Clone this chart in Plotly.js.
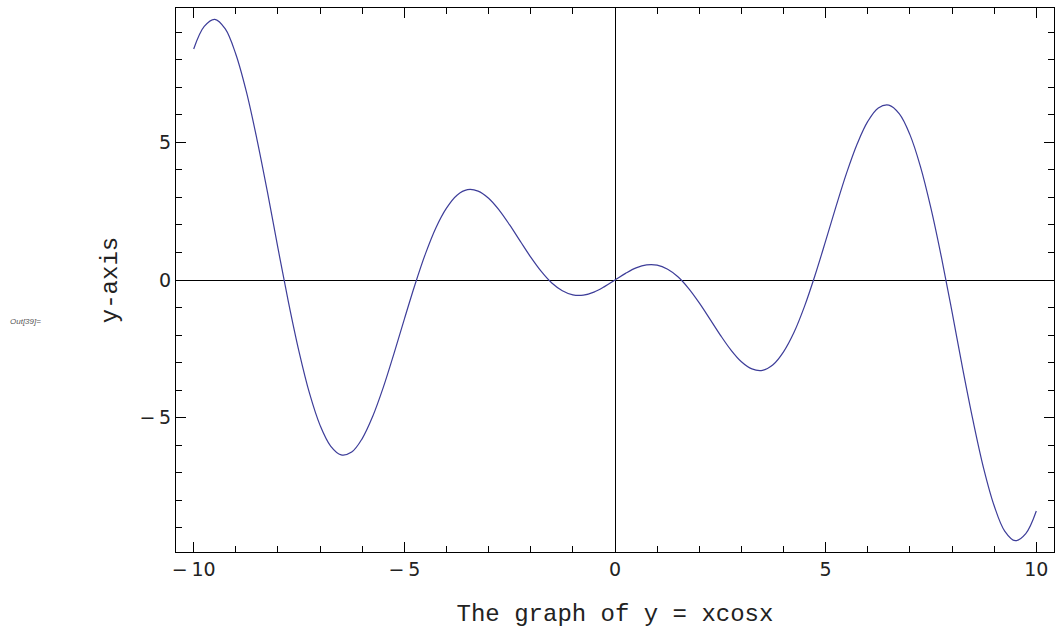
<!DOCTYPE html>
<html>
<head>
<meta charset="utf-8">
<script src="https://cdn.plot.ly/plotly-3.0.1.min.js"></script>
<style>html,body{margin:0;padding:0;background:#fff;}#chart{width:1055px;height:629px;}</style>
</head>
<body>
<div id="chart"></div>
<script>
// Sample points (x step 0.25)
const xValues = [
  -10,-9.75,-9.5,-9.25,-9,-8.75,-8.5,-8.25,-8,-7.75,-7.5,-7.25,-7,-6.75,-6.5,-6.25,-6,-5.75,-5.5,-5.25,
  -5,-4.75,-4.5,-4.25,-4,-3.75,-3.5,-3.25,-3,-2.75,-2.5,-2.25,-2,-1.75,-1.5,-1.25,-1,-0.75,-0.5,-0.25,
  0,0.25,0.5,0.75,1,1.25,1.5,1.75,2,2.25,2.5,2.75,3,3.25,3.5,3.75,4,4.25,4.5,4.75,
  5,5.25,5.5,5.75,6,6.25,6.5,6.75,7,7.25,7.5,7.75,8,8.25,8.5,8.75,9,9.25,9.5,9.75,10
];
const yValues = [
  8.39,9.21,9.47,9.12,8.20,6.84,5.12,3.20,1.16,-0.81,-2.60,-4.12,-5.28,-6.03,-6.35,-6.25,-5.76,-4.95,-3.90,-2.69,
  -1.42,-0.18,0.95,1.90,2.61,3.08,3.28,3.23,2.97,2.54,2.00,1.41,0.83,0.31,-0.11,-0.39,-0.54,-0.55,-0.44,-0.24,
  0,0.24,0.44,0.55,0.54,0.39,0.11,-0.31,-0.83,-1.41,-2.00,-2.54,-2.97,-3.23,-3.28,-3.08,-2.61,-1.90,-0.95,0.18,
  1.42,2.69,3.90,4.95,5.76,6.25,6.35,6.03,5.28,4.12,2.60,0.81,-1.16,-3.20,-5.12,-6.84,-8.20,-9.12,-9.47,-9.21,-8.39
];
const xTickVals = [-10,-5,0,5,10];
const xTickText = ['\u2212\u200910','\u2212\u20095','0','5','10'];
const yTickVals = [-5,0,5];
const yTickText = ['\u2212\u20095','0','5'];
const xTitle = 'The graph of y = xcosx';
const yTitle = 'y-axis';
const outLabel = 'Out[39]=';

const trace = {
  x: xValues, y: yValues, type: 'scatter', mode: 'lines',
  line: {color: '#3d3d99', width: 1.2, shape: 'spline', smoothing: 1},
  hoverinfo: 'skip'
};

const axisCommon = {
  showline: true, linecolor: '#000', linewidth: 1, mirror: 'ticks',
  ticks: 'inside', tickcolor: '#000', tickwidth: 1,
  showgrid: false, zeroline: true, zerolinecolor: '#000', zerolinewidth: 1,
  tickfont: {family: 'DejaVu Sans', size: 19, color: '#222'},
  tickmode: 'array'
};

const layout = {
  width: 1055, height: 629,
  margin: {l: 176, r: 1, t: 8, b: 77},
  paper_bgcolor: '#fff', plot_bgcolor: '#fff',
  showlegend: false,
  xaxis: Object.assign({}, axisCommon, {
    range: [-10.42, 10.42],
    tickvals: xTickVals, ticktext: xTickText, ticklen: 10,
    minor: {dtick: 1, tick0: 0, ticks: 'inside', ticklen: 6, tickcolor: '#000', tickwidth: 1, showgrid: false},
    title: {text: xTitle, font: {family: 'Liberation Mono', size: 24, color: '#222'}, standoff: 25}
  }),
  yaxis: Object.assign({}, axisCommon, {
    range: [-9.88, 9.88],
    tickvals: yTickVals, ticktext: yTickText, ticklen: 10,
    minor: {dtick: 1, tick0: 0, ticks: 'inside', ticklen: 6, tickcolor: '#000', tickwidth: 1, showgrid: false},
    title: {text: yTitle, font: {family: 'Liberation Mono', size: 24, color: '#222'}, standoff: 14}
  }),
  annotations: [{
    text: outLabel, xref: 'paper', yref: 'paper', x: -0.1913, y: 0.423,
    xanchor: 'left', yanchor: 'middle', showarrow: false,
    font: {family: 'Liberation Sans', size: 8, color: '#555', style: 'italic'}
  }]
};

Plotly.newPlot('chart', [trace], layout, {displayModeBar: false, staticPlot: true});
</script>
</body>
</html>
